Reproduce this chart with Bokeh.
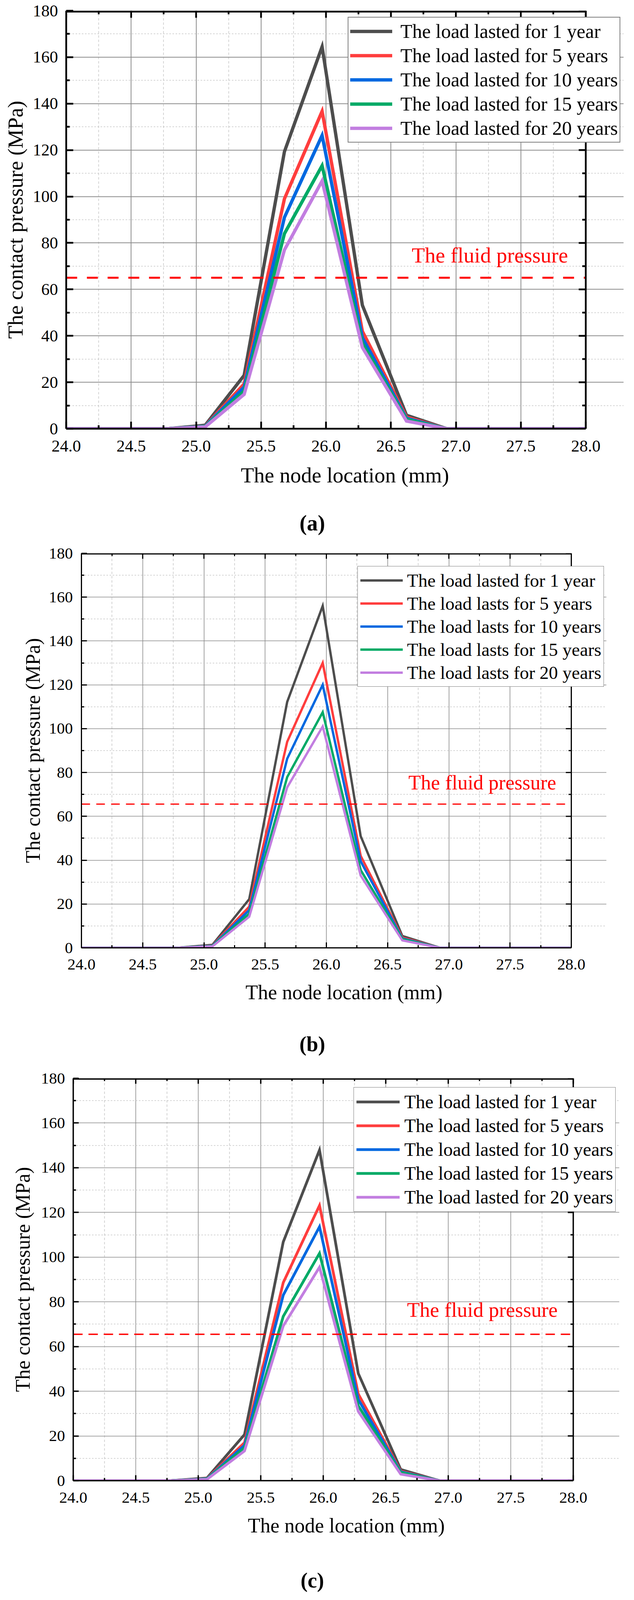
from bokeh.plotting import figure
from bokeh.models import (Range1d, FixedTicker, Label, Legend, LegendItem,
                          PrintfTickFormatter)
from bokeh.layouts import column
from bokeh.embed import file_html
from bokeh.resources import INLINE

FONT = "Liberation Serif"

# ---------------- data ----------------
node_x = [24.0, 24.78, 25.07, 25.37, 25.68, 25.97, 26.28, 26.62, 26.93, 28.0]

a_1y = [0, 0, 1.5, 23.0, 119.3, 164.5, 53.2, 5.8, 0, 0]
a_5y = [0, 0, 1.2, 19.3, 99.0, 136.7, 42.0, 5.0, 0, 0]
a_10y = [0, 0, 1.1, 17.9, 91.0, 126.3, 39.2, 4.5, 0, 0]
a_15y = [0, 0, 1.0, 16.2, 84.0, 113.3, 36.8, 4.0, 0, 0]
a_20y = [0, 0, 0.8, 14.8, 77.0, 106.7, 35.0, 3.3, 0, 0]

b_1y = [0, 0, 1.4, 22.2, 112.2, 156.0, 51.0, 5.4, 0, 0]
b_5y = [0, 0, 1.1, 18.8, 94.0, 130.0, 42.0, 4.7, 0, 0]
b_10y = [0, 0, 1.0, 17.2, 86.3, 120.0, 39.5, 4.3, 0, 0]
b_15y = [0, 0, 0.9, 15.6, 77.9, 107.5, 35.5, 4.0, 0, 0]
b_20y = [0, 0, 0.7, 14.2, 73.2, 101.0, 33.0, 3.4, 0, 0]

c_1y = [0, 0, 1.2, 20.6, 106.8, 147.9, 48.0, 5.0, 0, 0]
c_5y = [0, 0, 1.0, 17.0, 88.6, 123.1, 38.8, 4.3, 0, 0]
c_10y = [0, 0, 0.9, 15.8, 83.0, 113.6, 36.3, 4.0, 0, 0]
c_15y = [0, 0, 0.8, 14.7, 73.5, 101.7, 33.5, 3.7, 0, 0]
c_20y = [0, 0, 0.6, 13.3, 69.2, 95.5, 31.0, 2.9, 0, 0]

labels_a = ["The load lasted for 1 year", "The load lasted for 5 years",
            "The load lasted for 10 years", "The load lasted for 15 years",
            "The load lasted for 20 years"]
labels_b = ["The load lasted for 1 year", "The load lasts for 5 years",
            "The load lasts for 10 years", "The load lasts for 15 years",
            "The load lasts for 20 years"]
labels_c = ["The load lasted for 1 year", "The load lasted for 5 years",
            "The load lasted for 10 years", "The load lasted for 15 years",
            "The load lasted for 20 years"]

fluid_pressure = [65.0, 65.6, 65.5]
fluid_text = "The fluid pressure"
captions = ["(a)", "(b)", "(c)"]

x_ticks = [24.0, 24.5, 25.0, 25.5, 26.0, 26.5, 27.0, 27.5, 28.0]
x_minor = [24.25, 24.75, 25.25, 25.75, 26.25, 26.75, 27.25, 27.75]
y_ticks = [0, 20, 40, 60, 80, 100, 120, 140, 160, 180]
y_minor = [10, 30, 50, 70, 90, 110, 130, 150, 170]

x_title = "The node location (mm)"
y_title = "The contact pressure (MPa)"

colors = ["#4d4d4d", "#ff3d3d", "#0068e0", "#00aa66", "#c27ee0"]

# ---------------- layout / style per panel ----------------
# ext = extra frame pixels right of x=28 (room for the legend that overhangs the axes)
cfg_a = dict(h=1287, bl=169, br=11, bt=27, bb=190, ppx=332.5, ppy=1070 / 180, ext=97,
             tick_fs="43px", title_fs="55px",
             leg_fs="50px", lw=8.5, axw=4.5, mt=18, nt=9, ytick_so=21, xtick_so=30,
             ytitle_so=11, xtitle_so=27, leg_loc=(721, 732), leg_gw=108, leg_row=62,
             leg_so=21, leg_pad=4, leg_bw=2.5, fl_x=26.66, fl_y=74.7, fl_fs="55px",
             fl_dash="28 25", fl_w=5, grid_w=2.0,
             cap_h=89, cap_x=799, cap_y=38, cap_fs="56px")
cfg_b = dict(h=1240, bl=208, br=55, bt=40, bb=190, ppx=313.5, ppy=1010 / 180, ext=90,
             tick_fs="41px", title_fs="52px",
             leg_fs="47px", lw=6, axw=3, mt=14, nt=7, ytick_so=22, xtick_so=29,
             ytitle_so=9, xtitle_so=27, leg_loc=(707, 668), leg_gw=109, leg_row=59.6,
             leg_so=11, leg_pad=6, leg_bw=1.5, fl_x=26.67, fl_y=75.4, fl_fs="52px",
             fl_dash="22 16", fl_w=3, grid_w=1.6,
             cap_h=112, cap_x=799, cap_y=56, cap_fs="54px")
cfg_c = dict(h=1252, bl=187, br=22, bt=32, bb=190, ppx=320.0, ppy=1030 / 180, ext=118,
             tick_fs="41px", title_fs="52px",
             leg_fs="48px", lw=7, axw=3.5, mt=14, nt=7, ytick_so=21, xtick_so=30,
             ytitle_so=15, xtitle_so=27, leg_loc=(718, 688), leg_gw=111, leg_row=61,
             leg_so=12, leg_pad=6, leg_bw=1.5, fl_x=26.67, fl_y=76.4, fl_fs="53px",
             fl_dash="24 15", fl_w=3.5, grid_w=1.6,
             cap_h=105, cap_x=799, cap_y=40, cap_fs="54px")

FIG_W = 1607


def style_axis(ax, cfg):
    ax.axis_line_color = "black"
    ax.axis_line_width = cfg["axw"]
    ax.major_tick_line_color = "black"
    ax.major_tick_line_width = cfg["axw"]
    ax.minor_tick_line_color = "black"
    ax.minor_tick_line_width = cfg["axw"]
    ax.major_tick_in = cfg["mt"]
    ax.major_tick_out = 0
    ax.minor_tick_in = cfg["nt"]
    ax.minor_tick_out = 0
    ax.major_label_text_font = FONT
    ax.axis_label_text_font = FONT
    ax.axis_label_text_font_style = "normal"
    ax.axis_label_text_color = "black"
    ax.major_label_text_color = "black"
    ax.major_label_text_font_size = cfg["tick_fs"]
    ax.axis_label_text_font_size = cfg["title_fs"]


def no_frame_align(p):
    try:
        p.frame_align = False
    except Exception:
        pass


def make_panel(cfg, series, labels, fluid):
    x0, x1 = x_ticks[0], x_ticks[-1]
    y0, y1 = y_ticks[0], y_ticks[-1]
    x_end = x1 + cfg["ext"] / cfg["ppx"]
    p = figure(width=FIG_W, height=cfg["h"], x_range=Range1d(x0, x_end), y_range=Range1d(y0, y1),
               output_backend="svg", toolbar_location=None,
               min_border_left=cfg["bl"], min_border_right=cfg["br"],
               min_border_top=cfg["bt"], min_border_bottom=cfg["bb"],
               x_axis_label=x_title, y_axis_label=y_title)
    no_frame_align(p)
    p.background_fill_color = "white"
    p.border_fill_color = "white"
    p.outline_line_color = None

    xt = FixedTicker(ticks=x_ticks, minor_ticks=x_minor)
    yt = FixedTicker(ticks=y_ticks, minor_ticks=y_minor)

    bx = p.below[0]
    ly = p.left[0]
    bx.ticker = xt
    ly.ticker = yt
    bx.bounds = (x0, x1)
    ly.bounds = (y0, y1)
    bx.formatter = PrintfTickFormatter(format="%.1f")
    style_axis(bx, cfg)
    style_axis(ly, cfg)
    bx.major_label_standoff = cfg["xtick_so"]
    ly.major_label_standoff = cfg["ytick_so"]
    bx.axis_label_standoff = cfg["xtitle_so"]
    ly.axis_label_standoff = cfg["ytitle_so"]

    for g, t, dash in ((p.xgrid, xt, "6 5"), (p.ygrid, yt, "4 4")):
        g.ticker = t
        g.grid_line_color = "#8a8a8a"
        g.grid_line_width = cfg["grid_w"]
        g.minor_grid_line_color = "#c4c4c4"
        g.minor_grid_line_width = 1.5
        g.minor_grid_line_dash = dash

    # white area right of the x axis end (legend overhang region)
    p.quad(left=[x1], right=[x_end + 1], bottom=[y0 - 10], top=[y1 + 10],
           fill_color="white", line_color=None, level="underlay")

    renderers = []
    for ys, c in zip(series, colors):
        r = p.line(node_x, ys, line_color=c, line_width=cfg["lw"], line_join="miter")
        renderers.append(r)

    # fluid pressure reference line
    p.line([x0, x1], [fluid, fluid], line_color="#ff0000", line_width=cfg["fl_w"],
           line_dash=cfg["fl_dash"])

    # top and right frame lines with inward ticks
    w = cfg["axw"]
    p.segment(x0=[x0], y0=[y1], x1=[x1], y1=[y1], line_color="black", line_width=2 * w)
    p.segment(x0=[x1], y0=[y0], x1=[x1], y1=[y1], line_color="black", line_width=w)
    mty = cfg["mt"] / cfg["ppy"]
    nty = cfg["nt"] / cfg["ppy"]
    mtx = cfg["mt"] / cfg["ppx"]
    ntx = cfg["nt"] / cfg["ppx"]
    p.segment(x0=x_ticks, y0=[y1] * len(x_ticks), x1=x_ticks, y1=[y1 - mty] * len(x_ticks),
              line_color="black", line_width=w)
    p.segment(x0=x_minor, y0=[y1] * len(x_minor), x1=x_minor, y1=[y1 - nty] * len(x_minor),
              line_color="black", line_width=w)
    p.segment(x0=[x1] * len(y_ticks), y0=y_ticks, x1=[x1 - mtx] * len(y_ticks), y1=y_ticks,
              line_color="black", line_width=w)
    p.segment(x0=[x1] * len(y_minor), y0=y_minor, x1=[x1 - ntx] * len(y_minor), y1=y_minor,
              line_color="black", line_width=w)

    p.add_layout(Label(x=cfg["fl_x"], y=cfg["fl_y"], text=fluid_text, text_color="#ff0000",
                       text_font=FONT, text_font_size=cfg["fl_fs"], text_baseline="middle",
                       text_align="left"))

    legend = Legend(items=[LegendItem(label=lab, renderers=[r]) for lab, r in zip(labels, renderers)],
                    location=cfg["leg_loc"], margin=0, padding=cfg["leg_pad"], spacing=0,
                    glyph_width=cfg["leg_gw"], glyph_height=int(cfg["leg_row"]),
                    label_height=int(cfg["leg_row"]), label_standoff=cfg["leg_so"],
                    label_text_font=FONT, label_text_font_size=cfg["leg_fs"],
                    label_text_color="black",
                    border_line_color="black", border_line_width=cfg["leg_bw"],
                    background_fill_color="white", background_fill_alpha=1.0)
    p.add_layout(legend, "center")
    return p


def make_caption(cfg, caption):
    h = cfg["cap_h"]
    c = figure(width=FIG_W, height=h, x_range=Range1d(0, FIG_W), y_range=Range1d(0, h),
               output_backend="svg", toolbar_location=None, min_border=0,
               x_axis_location=None, y_axis_location=None)
    no_frame_align(c)
    c.grid.visible = False
    c.outline_line_color = None
    c.background_fill_color = "white"
    c.border_fill_color = "white"
    c.add_layout(Label(x=cfg["cap_x"], y=cfg["cap_y"], text=caption, text_font=FONT,
                       text_font_size=cfg["cap_fs"], text_font_style="bold",
                       text_align="center", text_baseline="middle", text_color="black"))
    return c


pa = make_panel(cfg_a, [a_1y, a_5y, a_10y, a_15y, a_20y], labels_a, fluid_pressure[0])
pb = make_panel(cfg_b, [b_1y, b_5y, b_10y, b_15y, b_20y], labels_b, fluid_pressure[1])
pc = make_panel(cfg_c, [c_1y, c_5y, c_10y, c_15y, c_20y], labels_c, fluid_pressure[2])
ca = make_caption(cfg_a, captions[0])
cb = make_caption(cfg_b, captions[1])
cc = make_caption(cfg_c, captions[2])

layout = column(pa, ca, pb, cb, pc, cc, spacing=0)
open("out.html", "w").write(file_html(layout, INLINE))
